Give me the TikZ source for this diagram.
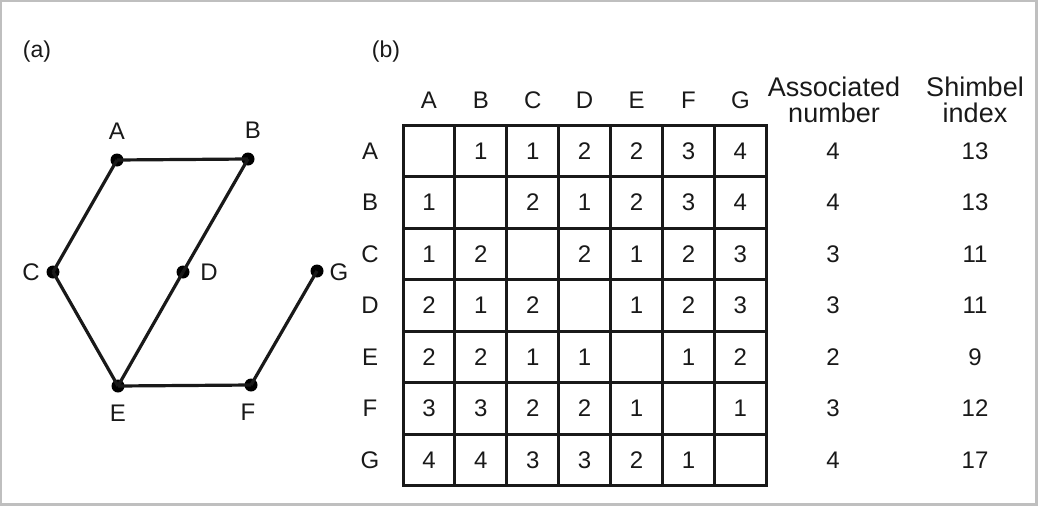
\documentclass[tikz,border=0pt]{standalone}
\usepackage{fontspec}
\setmainfont{Liberation Sans}
\begin{document}
\begin{tikzpicture}[x=1pt,y=-1pt,
  lbl/.style={font=\fontsize{24}{24}\selectfont, text=black!90, inner sep=0pt},
  plbl/.style={font=\fontsize{23}{23}\selectfont, text=black!90, inner sep=0pt},
  hdr/.style={font=\fontsize{27}{27}\selectfont, text=black!90, inner sep=0pt, anchor=base},
  vtx/.style={circle, fill=black, inner sep=0pt, minimum size=13pt},
  edge/.style={line width=3.2pt, black!90},
  gridline/.style={line width=3pt, black!90},
  frame/.style={fill=black!25}]
\useasboundingbox (0,0) rectangle (1038,506);
% outer frame
\fill[frame] (0,0) rectangle (1038,2);
\fill[frame] (0,0) rectangle (2,506);
\fill[frame] (1035,0) rectangle (1038,506);
\fill[frame] (0,503) rectangle (1038,506);

% panel labels
\node[plbl] (pa) at (37,52) {(a)};
\node[plbl] (pb) at (386,52) {(b)};

% graph (a)
\node[vtx] (A) at (117,160) {};
\node[vtx] (B) at (248,159) {};
\node[vtx] (C) at (53,272) {};
\node[vtx] (D) at (183,272) {};
\node[vtx] (G) at (317,271) {};
\node[vtx] (E) at (118,386) {};
\node[vtx] (F) at (251,385) {};
\draw[edge] (A.center) -- (B.center);
\draw[edge] (A.center) -- (C.center);
\draw[edge] (C.center) -- (E.center);
\draw[edge] (B.center) -- (D.center);
\draw[edge] (D.center) -- (E.center);
\draw[edge] (E.center) -- (F.center);
\draw[edge] (F.center) -- (G.center);
\node[lbl] (lA) at (117,131) {A};
\node[lbl] (lB) at (253,130) {B};
\node[lbl] (lC) at (31,272) {C};
\node[lbl] (lD) at (209,272) {D};
\node[lbl] (lG) at (339,272) {G};
\node[lbl] (lE) at (118,413) {E};
\node[lbl] (lF) at (248,412) {F};

% table (b)
\foreach \i in {0,...,7} {
  \draw[gridline] ({403+\i*51.9},125) -- ({403+\i*51.9},485.5);
  \draw[gridline] (403,{125+\i*51.5}) -- (766.3,{125+\i*51.5});
}
\draw[gridline, line join=miter] (403,125) rectangle (766.3,485.5);

\foreach \L [count=\ci from 0] in {A,B,C,D,E,F,G}
  \node[lbl] (h\L) at ({403+(\ci+0.5)*51.9},100) {\L};

\foreach \L/\a/\s [count=\ri from 0] in {A/4/13,B/4/13,C/3/11,D/3/11,E/2/9,F/3/12,G/4/17} {
  \node[lbl] (r\L) at (370,{125+(\ri+0.5)*51.5}) {\L};
  \node[lbl] (a\L) at (833,{125+(\ri+0.5)*51.5}) {\a};
  \node[lbl] (s\L) at (975,{125+(\ri+0.5)*51.5}) {\s};
}

\foreach \row [count=\ri from 0] in {{0,1,1,2,2,3,4},{1,0,2,1,2,3,4},{1,2,0,2,1,2,3},{2,1,2,0,1,2,3},{2,2,1,1,0,1,2},{3,3,2,2,1,0,1},{4,4,3,3,2,1,0}} {
  \foreach \v [count=\ci from 0] in \row {
    \ifnum\v>0
      \node[lbl] (c\ri\ci) at ({403+(\ci+0.5)*51.9},{125+(\ri+0.5)*51.5}) {\v};
    \fi
  }
}

\node[hdr] (assoc1) at (834,96) {Associated};
\node[hdr] (assoc2) at (834,122) {number};
\node[hdr] (shim1) at (975,96) {Shimbel};
\node[hdr] (shim2) at (975,122) {index};
\end{tikzpicture}
\end{document}
